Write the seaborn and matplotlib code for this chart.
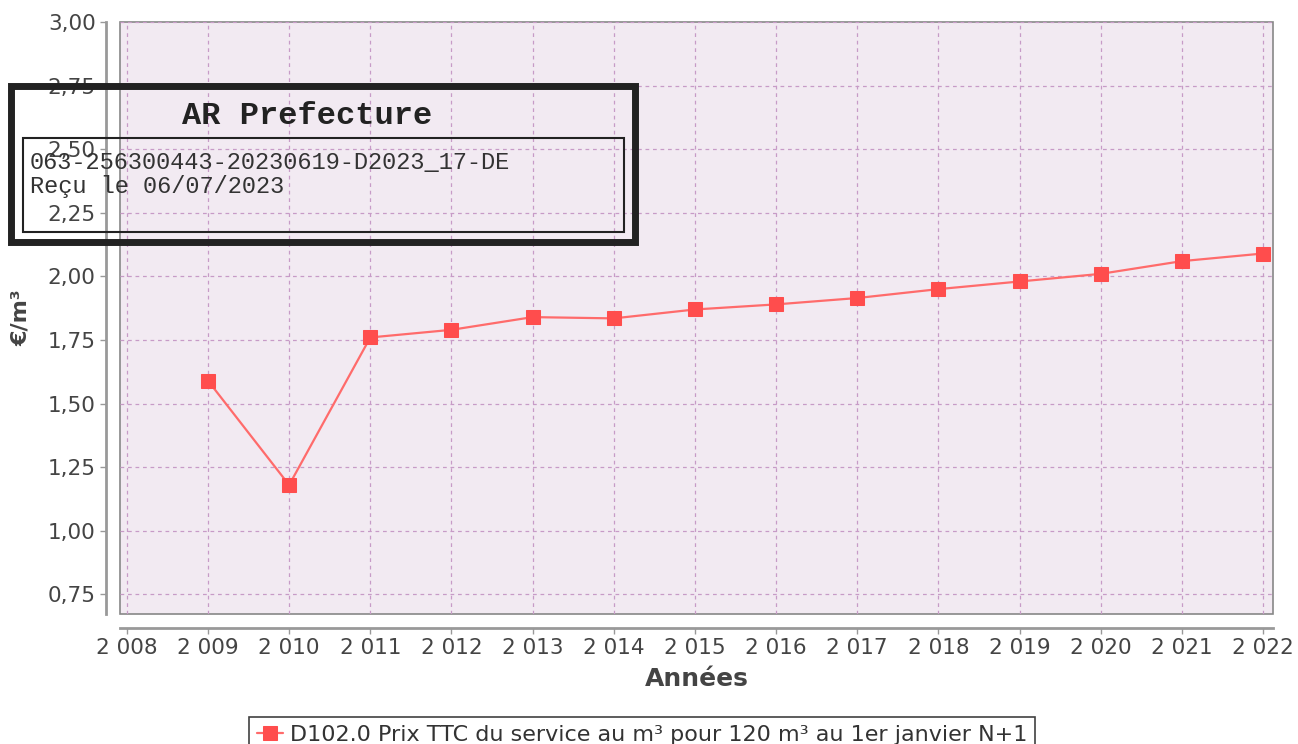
import matplotlib
matplotlib.use("Agg")
import matplotlib.pyplot as plt
import seaborn as sns
import pandas as pd
from matplotlib.ticker import FuncFormatter, MultipleLocator
from matplotlib.patches import Rectangle

# data
years = [2009, 2010, 2011, 2012, 2013, 2014, 2015, 2016, 2017, 2018, 2019, 2020, 2021, 2022]
prices = [1.59, 1.18, 1.76, 1.79, 1.84, 1.835, 1.87, 1.89, 1.915, 1.95, 1.98, 2.01, 2.06, 2.09]
series_label = "D102.0 Prix TTC du service au m³ pour 120 m³ au 1er janvier N+1"
stamp_title = "AR Prefecture"
stamp_lines = ["063-256300443-20230619-D2023_17-DE", "Reçu le 06/07/2023"]

data = pd.DataFrame({"Années": years, "Prix": prices})

sns.set_style("white")
plt.rcParams["font.family"] = ["DejaVu Sans"]

fig = plt.figure(figsize=(12.98, 7.44), dpi=100)
ax = fig.add_axes([120 / 1298, 1 - 614 / 744, 1153 / 1298, 592 / 744])

sns.lineplot(data=data, x="Années", y="Prix", ax=ax, color="#ff6b6b", lw=1.6,
             marker="s", markersize=10, markerfacecolor="#ff4d4d",
             markeredgecolor="#ff4d4d", label=series_label, legend=False)

ax.set_facecolor("#f2eaf2")
ax.patch.set_edgecolor("#888888")
ax.patch.set_linewidth(1.2)

ax.set_xlim(2007.916, 2022.123)
ax.set_ylim(0.673, 3.0)
ax.xaxis.set_major_locator(MultipleLocator(1))
ax.yaxis.set_major_locator(MultipleLocator(0.25))
ax.xaxis.set_major_formatter(FuncFormatter(lambda v, p: f"{int(round(v)):,}".replace(",", " ")))
ax.yaxis.set_major_formatter(FuncFormatter(lambda v, p: f"{v:.2f}".replace(".", ",")))

ax.grid(True, color="#c79bc7", linestyle=(0, (3, 3)), lw=0.9)

for s in ["top", "right"]:
    ax.spines[s].set_visible(False)
for s in ["left", "bottom"]:
    ax.spines[s].set_position(("outward", 10))
    ax.spines[s].set_color("#999999")
    ax.spines[s].set_linewidth(2)

ax.tick_params(axis="both", colors="#999999", labelcolor="#444444", labelsize=15.5,
               length=4, width=1, direction="out", left=True, bottom=True)

ax.set_xlabel("Années", fontsize=18, fontweight="bold", color="#444444", labelpad=6)
ax.set_ylabel("€/m³", fontsize=16, fontweight="bold", color="#444444", labelpad=12)

leg = fig.legend(loc="upper center", bbox_to_anchor=(642 / 1298, 1 - 706 / 744),
                 fontsize=16, frameon=True, fancybox=False, handlelength=1.2,
                 handletextpad=0.3, borderpad=0.35, labelcolor="#333333")
leg.get_frame().set_edgecolor("#111111")
leg.get_frame().set_linewidth(1.2)

# receipt stamp
fig.patches.append(Rectangle((11 / 1298, 1 - 242 / 744), 624 / 1298, 156 / 744,
                             transform=fig.transFigure, fill=False,
                             edgecolor="#222222", lw=5, zorder=10))
fig.patches.append(Rectangle((23 / 1298, 1 - 232 / 744), 601 / 1298, 94 / 744,
                             transform=fig.transFigure, fill=False,
                             edgecolor="#222222", lw=1.5, zorder=10))
fig.text(307 / 1298, 1 - 116 / 744, stamp_title, family="Liberation Mono",
         fontweight="bold", fontsize=23, color="#222222", ha="center", va="center")
fig.text(30 / 1298, 1 - 162 / 744, stamp_lines[0], family="Liberation Mono",
         fontsize=17, color="#333333", ha="left", va="center")
fig.text(30 / 1298, 1 - 187 / 744, stamp_lines[1], family="Liberation Mono",
         fontsize=17, color="#333333", ha="left", va="center")

fig.savefig("out.png", dpi=100)
